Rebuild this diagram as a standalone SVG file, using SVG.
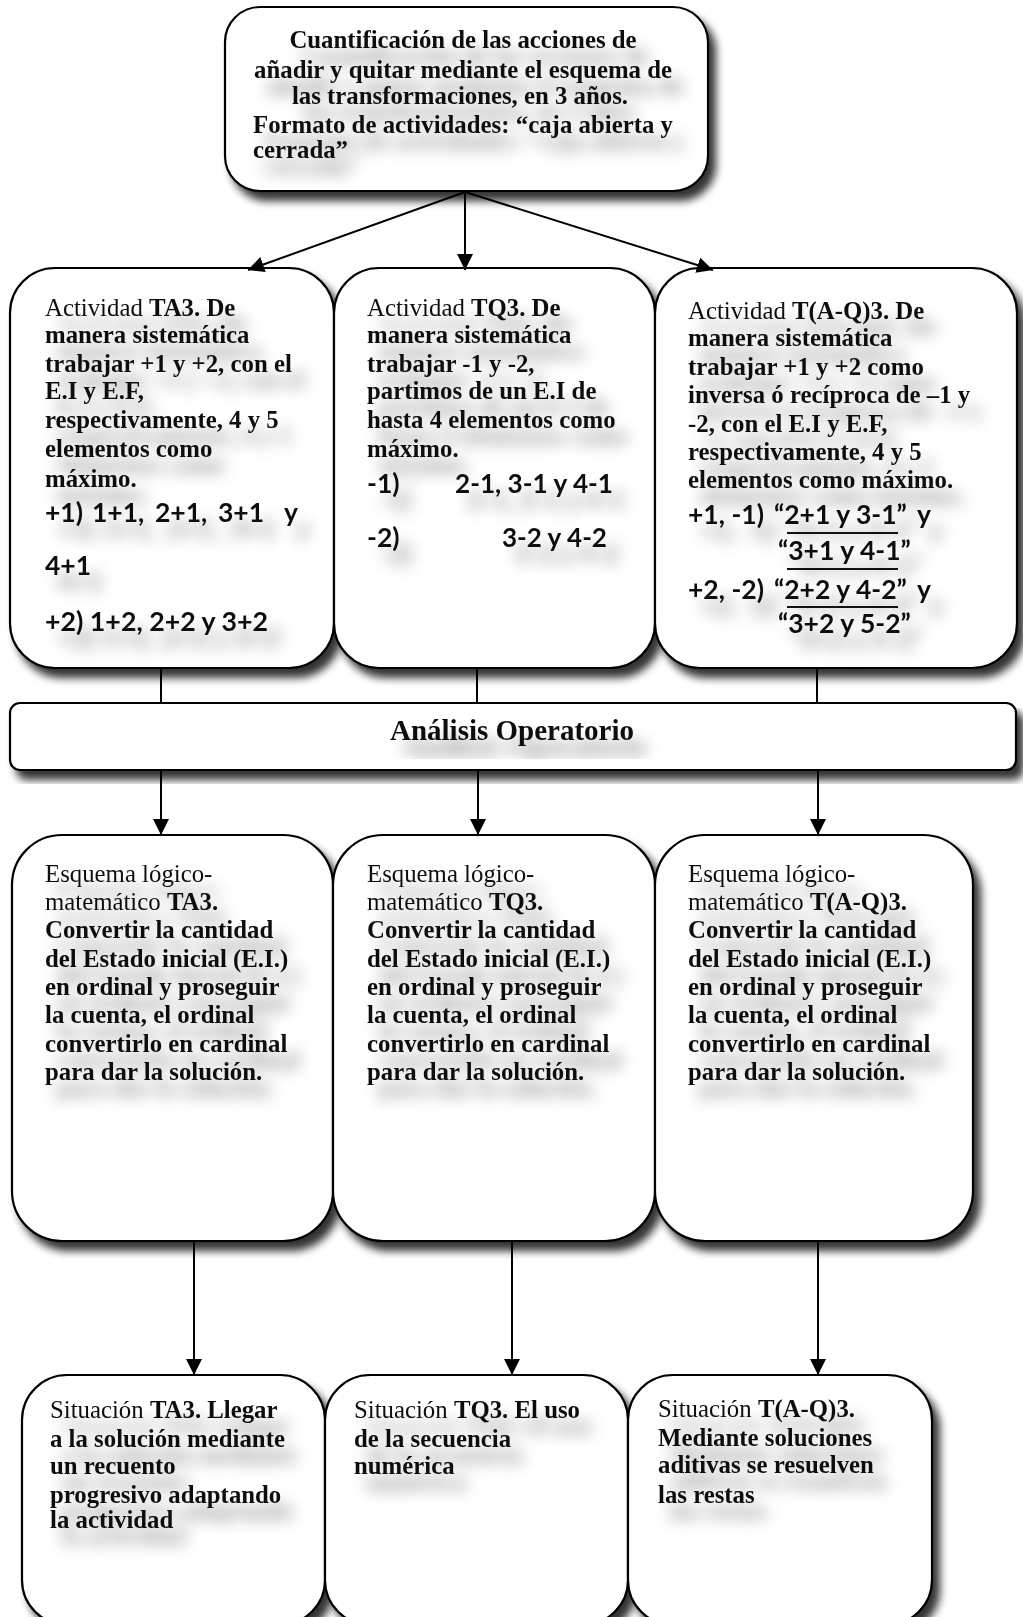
<svg xmlns="http://www.w3.org/2000/svg" width="1023" height="1617" viewBox="0 0 1023 1617">
<style>
.box{fill:#fff;stroke:#000;stroke-width:2.2;filter:url(#sh)}
.t{font-family:"Liberation Serif","Times New Roman",serif;font-size:24.8px;font-weight:bold;fill:#111}
.r{font-weight:normal}
.f{font-family:Lato,"Liberation Sans",sans-serif;font-weight:bold;font-size:26.5px;fill:#111}
.big{font-size:29px}
.c{stroke:#000;stroke-width:2;fill:none}
.ul{stroke:#111;stroke-width:2.2}
.txt{filter:url(#ts)}
</style>
<defs>
<filter id="sh" x="-5%" y="-5%" width="115%" height="125%">
<feGaussianBlur in="SourceAlpha" stdDeviation="4"/>
<feOffset dx="7" dy="9"/>
<feComponentTransfer><feFuncA type="linear" slope="0.8"/></feComponentTransfer>
<feMerge><feMergeNode/><feMergeNode in="SourceGraphic"/></feMerge>
</filter>
<filter id="ts" x="-10%" y="-10%" width="130%" height="150%">
<feGaussianBlur in="SourceAlpha" stdDeviation="8"/>
<feOffset dx="12" dy="16"/>
<feComponentTransfer><feFuncA type="linear" slope="0.45"/></feComponentTransfer>
<feMerge><feMergeNode/><feMergeNode in="SourceGraphic"/></feMerge>
</filter>
<marker id="ah" markerWidth="16" markerHeight="16" refX="16" refY="8" orient="auto" markerUnits="userSpaceOnUse">
<path d="M0,0 L16,8 L0,16 z" fill="#000"/>
</marker>
</defs>
<rect width="1023" height="1617" fill="#fff"/>

<g id="top">
<rect class="box" x="225" y="7" width="483" height="184" rx="35"/>
<g class="txt">
<text class="t" x="463" y="48" text-anchor="middle">Cuantificación de las acciones de</text>
<text class="t" x="463" y="78" text-anchor="middle">añadir y quitar mediante el esquema de</text>
<text class="t" x="460" y="104" text-anchor="middle">las transformaciones, en 3 años.</text>
<text class="t" x="253" y="133" textLength="420">Formato de actividades: “caja abierta y</text>
<text class="t" x="253" y="158">cerrada”</text>
</g>
</g>

<g id="actTA3">
<rect class="box" x="10" y="268" width="324" height="400" rx="45"/>
<g class="txt">
<text class="t" x="45" y="316"><tspan class="r">Actividad </tspan>TA3. De</text>
<text class="t" x="45" y="343">manera sistemática</text>
<text class="t" x="45" y="372">trabajar +1 y +2, con el</text>
<text class="t" x="45" y="399">E.I y E.F,</text>
<text class="t" x="45" y="428">respectivamente, 4 y 5</text>
<text class="t" x="45" y="457">elementos como</text>
<text class="t" x="45" y="487">máximo.</text>
<text class="f" y="522"><tspan x="45">+1)</tspan><tspan x="92">1+1,</tspan><tspan x="155">2+1,</tspan><tspan x="218">3+1</tspan><tspan x="284">y</tspan></text>
<text class="f" x="45" y="575">4+1</text>
<text class="f" x="45" y="631" textLength="223" lengthAdjust="spacingAndGlyphs">+2) 1+2, 2+2 y 3+2</text>
</g>
</g>

<g id="actTQ3">
<rect class="box" x="334" y="268" width="321" height="400" rx="45"/>
<g class="txt">
<text class="t" x="367" y="316"><tspan class="r">Actividad </tspan>TQ3. De</text>
<text class="t" x="367" y="343">manera sistemática</text>
<text class="t" x="367" y="372">trabajar -1 y -2,</text>
<text class="t" x="367" y="399">partimos de un E.I de</text>
<text class="t" x="367" y="428">hasta 4 elementos como</text>
<text class="t" x="367" y="457">máximo.</text>
<text class="f" x="367" y="493">-1)</text>
<text class="f" x="455" y="493" textLength="158" lengthAdjust="spacingAndGlyphs">2-1, 3-1 y 4-1</text>
<text class="f" x="367" y="547">-2)</text>
<text class="f" x="502" y="547" textLength="105" lengthAdjust="spacingAndGlyphs">3-2 y 4-2</text>
</g>
</g>

<g id="actTAQ3">
<rect class="box" x="655" y="268" width="362" height="400" rx="45"/>
<g class="txt">
<text class="t" x="688" y="319"><tspan class="r">Actividad </tspan>T(A-Q)3. De</text>
<text class="t" x="688" y="346">manera sistemática</text>
<text class="t" x="688" y="375">trabajar +1 y +2 como</text>
<text class="t" x="688" y="403">inversa ó recíproca de –1 y</text>
<text class="t" x="688" y="432">-2, con el E.I y E.F,</text>
<text class="t" x="688" y="460">respectivamente, 4 y 5</text>
<text class="t" x="688" y="488">elementos como máximo.</text>
<text class="f" y="524"><tspan x="688">+1, -1)</tspan><tspan x="774">“2+1 y 3-1”</tspan><tspan x="917">y</tspan></text>
<text class="f" x="778" y="560">“3+1 y 4-1”</text>
<text class="f" y="599"><tspan x="688">+2, -2)</tspan><tspan x="774">“2+2 y 4-2”</tspan><tspan x="917">y</tspan></text>
<text class="f" x="778" y="633">“3+2 y 5-2”</text>
</g>
<line class="ul" x1="787" y1="533" x2="898" y2="533"/>
<line class="ul" x1="787" y1="569" x2="898" y2="569"/>
<line class="ul" x1="787" y1="607" x2="898" y2="607"/>
</g>

<g id="analisis">
<rect class="box" x="10" y="703" width="1006" height="67" rx="10"/>
<g class="txt">
<text class="t big" x="512" y="740" text-anchor="middle">Análisis Operatorio</text>
</g>
</g>

<g id="esqTA3">
<rect class="box" x="12" y="835" width="321" height="406" rx="50"/>
<g class="txt">
<text class="t r" x="45" y="882">Esquema lógico-</text>
<text class="t" x="45" y="910"><tspan class="r">matemático </tspan>TA3.</text>
<text class="t" x="45" y="938">Convertir la cantidad</text>
<text class="t" x="45" y="967">del Estado inicial (E.I.)</text>
<text class="t" x="45" y="995">en ordinal y proseguir</text>
<text class="t" x="45" y="1023">la cuenta, el ordinal</text>
<text class="t" x="45" y="1052">convertirlo en cardinal</text>
<text class="t" x="45" y="1080">para dar la solución.</text>
</g>
</g>

<g id="esqTQ3">
<rect class="box" x="333" y="835" width="322" height="406" rx="50"/>
<g class="txt">
<text class="t r" x="367" y="882">Esquema lógico-</text>
<text class="t" x="367" y="910"><tspan class="r">matemático </tspan>TQ3.</text>
<text class="t" x="367" y="938">Convertir la cantidad</text>
<text class="t" x="367" y="967">del Estado inicial (E.I.)</text>
<text class="t" x="367" y="995">en ordinal y proseguir</text>
<text class="t" x="367" y="1023">la cuenta, el ordinal</text>
<text class="t" x="367" y="1052">convertirlo en cardinal</text>
<text class="t" x="367" y="1080">para dar la solución.</text>
</g>
</g>

<g id="esqTAQ3">
<rect class="box" x="655" y="835" width="318" height="406" rx="50"/>
<g class="txt">
<text class="t r" x="688" y="882">Esquema lógico-</text>
<text class="t" x="688" y="910"><tspan class="r">matemático </tspan>T(A-Q)3.</text>
<text class="t" x="688" y="938">Convertir la cantidad</text>
<text class="t" x="688" y="967">del Estado inicial (E.I.)</text>
<text class="t" x="688" y="995">en ordinal y proseguir</text>
<text class="t" x="688" y="1023">la cuenta, el ordinal</text>
<text class="t" x="688" y="1052">convertirlo en cardinal</text>
<text class="t" x="688" y="1080">para dar la solución.</text>
</g>
</g>

<g id="sitTA3">
<rect class="box" x="22" y="1375" width="303" height="250" rx="45"/>
<g class="txt">
<text class="t" x="50" y="1418"><tspan class="r">Situación </tspan>TA3. Llegar</text>
<text class="t" x="50" y="1447">a la solución mediante</text>
<text class="t" x="50" y="1474">un recuento</text>
<text class="t" x="50" y="1503">progresivo adaptando</text>
<text class="t" x="50" y="1528">la actividad</text>
</g>
</g>

<g id="sitTQ3">
<rect class="box" x="325" y="1375" width="303" height="250" rx="45"/>
<g class="txt">
<text class="t" x="354" y="1418"><tspan class="r">Situación </tspan>TQ3. El uso</text>
<text class="t" x="354" y="1447">de la secuencia</text>
<text class="t" x="354" y="1474">numérica</text>
</g>
</g>

<g id="sitTAQ3">
<rect class="box" x="628" y="1375" width="304" height="250" rx="45"/>
<g class="txt">
<text class="t" x="658" y="1417"><tspan class="r">Situación </tspan>T(A-Q)3.</text>
<text class="t" x="658" y="1446">Mediante soluciones</text>
<text class="t" x="658" y="1473">aditivas se resuelven</text>
<text class="t" x="658" y="1503">las restas</text>
</g>
</g>

<g id="connectors">
<line class="c" x1="465" y1="192" x2="248" y2="270" marker-end="url(#ah)"/>
<line class="c" x1="465" y1="192" x2="465" y2="270" marker-end="url(#ah)"/>
<line class="c" x1="465" y1="192" x2="713" y2="270" marker-end="url(#ah)"/>
<line class="c" x1="161" y1="669" x2="161" y2="703"/>
<line class="c" x1="477" y1="669" x2="477" y2="703"/>
<line class="c" x1="817" y1="669" x2="817" y2="703"/>
<line class="c" x1="161" y1="771" x2="161" y2="835" marker-end="url(#ah)"/>
<line class="c" x1="478" y1="771" x2="478" y2="835" marker-end="url(#ah)"/>
<line class="c" x1="818" y1="771" x2="818" y2="835" marker-end="url(#ah)"/>
<line class="c" x1="194" y1="1242" x2="194" y2="1375" marker-end="url(#ah)"/>
<line class="c" x1="512" y1="1242" x2="512" y2="1375" marker-end="url(#ah)"/>
<line class="c" x1="818" y1="1242" x2="818" y2="1375" marker-end="url(#ah)"/>
</g>
</svg>
